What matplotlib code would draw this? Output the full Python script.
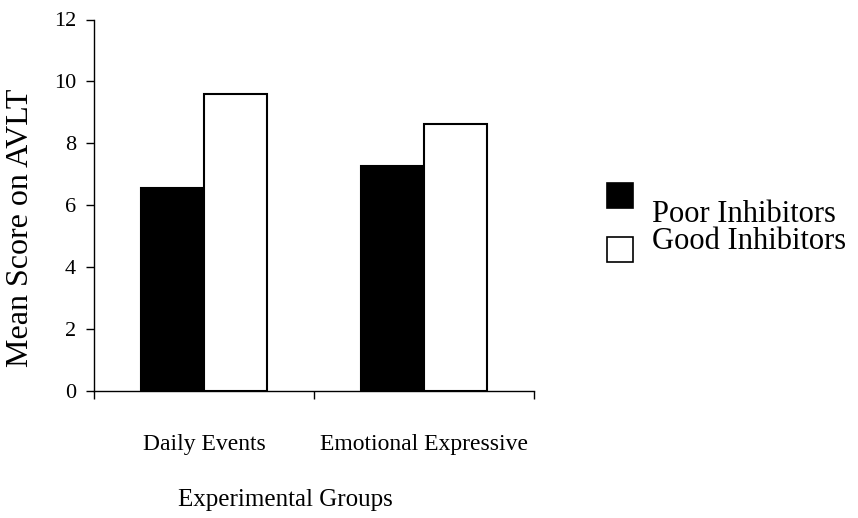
import matplotlib
matplotlib.use("Agg")
import matplotlib.pyplot as plt
from matplotlib.patches import Rectangle

groups = ["Daily Events", "Emotional Expressive"]
series = ["Poor Inhibitors", "Good Inhibitors"]
poor = [6.55, 7.27]
good = [9.6, 8.63]
colors = ["black", "white"]
yticks = [0, 2, 4, 6, 8, 10, 12]

plt.rcParams["font.family"] = ["Liberation Serif", "DejaVu Serif"]

fig = plt.figure(figsize=(8.58, 5.18), dpi=100)
ax = fig.add_axes([94 / 858, 1 - 391 / 518, 440 / 858, 371.5 / 518])

w = 0.287
x = list(range(len(groups)))
ax.bar([i - w / 2 for i in x], poor, width=w, color=colors[0], edgecolor="black", linewidth=1.5)
ax.bar([i + w / 2 for i in x], good, width=w, color=colors[1], edgecolor="black", linewidth=1.5)

ax.set_xlim(-0.5, len(groups) - 0.5)
ax.set_ylim(0, 12)
ax.set_yticks(yticks)
ax.tick_params(axis="y", direction="out", length=6, width=1, labelsize=16, pad=7)
ax.set_xticks([i - 0.5 for i in range(len(groups) + 1)])
ax.set_xticklabels([])
ax.tick_params(axis="x", which="major", direction="out", length=6, width=1)
ax.set_xticks(x, minor=True)
ax.set_xticklabels(groups, minor=True, fontsize=17)
ax.tick_params(axis="x", which="minor", length=0, pad=31)
for s in ["top", "right"]:
    ax.spines[s].set_visible(False)
for s in ["left", "bottom"]:
    ax.spines[s].set_linewidth(1)

fig.text(285 / 858, 1 - 500 / 518, "Experimental Groups", fontsize=18, ha="center", va="center")
fig.text(21 / 858, 1 - 228 / 518, "Mean Score on AVLT", fontsize=23, rotation=90, ha="center", va="center")

# legend drawn by hand (Excel style offsets)
sq_y = [183, 237]
txt_y = [214, 241]
for col, lab, sy, ty in zip(colors, series, sq_y, txt_y):
    fig.patches.append(Rectangle((607 / 858, 1 - (sy + 25) / 518), 26 / 858, 25 / 518,
                                 facecolor=col, edgecolor="black", linewidth=1.2,
                                 transform=fig.transFigure, figure=fig))
    fig.text(652 / 858, 1 - ty / 518, lab, fontsize=22, ha="left", va="center")

fig.savefig("out.png", dpi=100)
